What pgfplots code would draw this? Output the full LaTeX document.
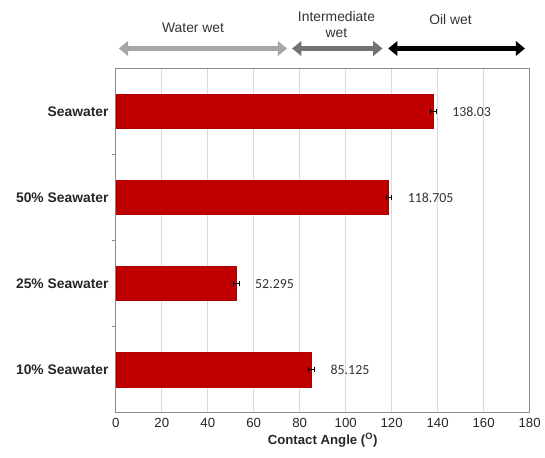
\documentclass[border=0pt]{standalone}
\usepackage{pgfplots}
\pgfplotsset{compat=1.18}
\usepackage{fontspec}
\setmainfont{Liberation Sans}
\newfontfamily\calib{Carlito}
\usetikzlibrary{arrows.meta}
\definecolor{barred}{HTML}{C00000}
\definecolor{axgray}{HTML}{8C8C8C}
\definecolor{gridgray}{HTML}{D9D9D9}
\begin{document}
\begin{tikzpicture}
\begin{axis}[
  scale only axis,
  width=313.5pt, height=261pt,
  xbar, bar width=26pt,
  xmin=0, xmax=180,
  ymin=-0.5, ymax=3.5,
  xtick={0,20,...,180},
  ytick={0,1,2,3},
  ytick pos=left, xtick pos=bottom,
  yticklabels={10\% Seawater,25\% Seawater,50\% Seawater,Seawater},
  yticklabel style={font=\fontsize{10.5}{12}\selectfont\bfseries, text=black!85, xshift=-2pt},
  xticklabel style={font=\fontsize{10}{12}\selectfont, text=black!85, yshift=-1pt},
  /pgf/number format/assume math mode=true,
  minor ytick={0.5,1.5,2.5},
  major tick length=0pt,
  minor tick length=3pt,
  tick align=outside,
  tick style={axgray, line width=0.6pt},
  xmajorgrids, grid style={gridgray, line width=0.8pt},
  axis line style={axgray, line width=0.8pt},
  xlabel={\textbf{Contact Angle (\textsuperscript{O})}},
  xlabel style={font=\fontsize{10}{12}\selectfont, text=black!85, yshift=3pt},
  clip=false,
  nodes near coords,
  point meta=explicit symbolic,
  nodes near coords style={font=\calib\fontsize{10.5}{12}\selectfont, text=black!80, anchor=west, xshift=11pt},
]
\addplot[fill=barred, draw=barred!90!black, error bars/.cd, x dir=both, x explicit, error bar style={black, line width=0.8pt}, error mark options={rotate=90, mark size=2pt, black}]
  coordinates {
  (85.125,0) +- (1.2,0) [85.125]
  (52.295,1) +- (1.2,0) [52.295]
  (118.705,2) +- (1.2,0) [118.705]
  (138.03,3) +- (1.2,0) [138.03]
  };
\draw[{Triangle[width=11pt,length=7pt]}-{Triangle[width=11pt,length=7pt]}, line width=4.5pt, black!35]
  ([yshift=15pt]axis cs:1.3,3.5) -- ([yshift=15pt]axis cs:74.5,3.5);
\draw[{Triangle[width=11pt,length=7pt]}-{Triangle[width=11pt,length=7pt]}, line width=4.5pt, black!55]
  ([yshift=15pt]axis cs:76.7,3.5) -- ([yshift=15pt]axis cs:116,3.5);
\draw[{Triangle[width=11pt,length=7pt]}-{Triangle[width=11pt,length=7pt]}, line width=4.5pt, black]
  ([yshift=15pt]axis cs:118.5,3.5) -- ([yshift=15pt]axis cs:178,3.5);
\node[font=\fontsize{10.5}{12}\selectfont, text=black!80] at ([yshift=30.75pt]axis cs:33.6,3.5) {Water wet};
\node[font=\fontsize{10.5}{12}\selectfont, text=black!80, align=center] at ([yshift=33pt]axis cs:96,3.5) {Intermediate\\wet};
\node[font=\fontsize{10.5}{12}\selectfont, text=black!80] at ([yshift=36.75pt]axis cs:145.6,3.5) {Oil wet};
\path ([xshift=-87.75pt,yshift=-33.75pt]rel axis cs:0,0) rectangle ([xshift=7.5pt,yshift=51.75pt]rel axis cs:1,1);
\end{axis}
\end{tikzpicture}
\end{document}
